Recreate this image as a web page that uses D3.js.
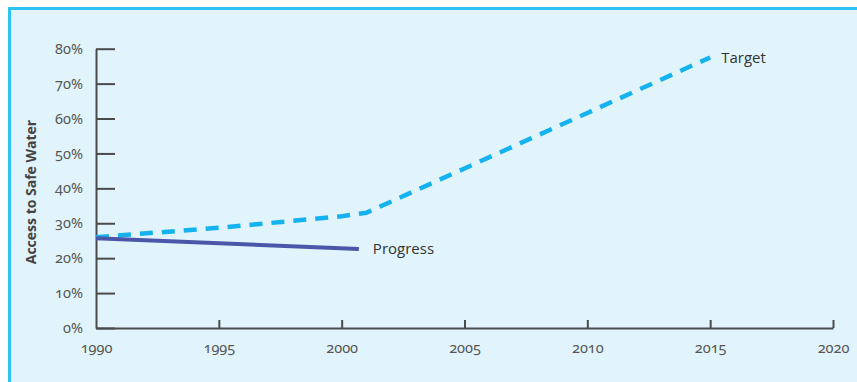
<!DOCTYPE html>
<html>
<head>
<meta charset="utf-8">
<script src="https://cdn.jsdelivr.net/npm/d3@7"></script>
<style>
  body { margin: 0; background: #fff; }
  svg { display: block; font-family: "Open Sans", Lato, sans-serif; }
  .tick text { font-family: "Noto Sans", "Open Sans", sans-serif; font-feature-settings: "onum" 1; font-variant-numeric: oldstyle-nums; }
</style>
</head>
<body>
<div id="chart"></div>
<script>
// data
var years = [1990, 1995, 2000, 2001, 2005, 2010, 2015];
var target = [26, 28.7, 32, 33, 45.7, 61.6, 77.5];
var progressYears = [1990, 2000.7];
var progress = [25.7, 22.6];
var xTicks = [1990, 1995, 2000, 2005, 2010, 2015, 2020];
var yTicks = [0, 10, 20, 30, 40, 50, 60, 70, 80];

var width = 857, height = 382;

var svg = d3.select("#chart").append("svg")
    .attr("width", width)
    .attr("height", height);

// panel
svg.append("rect")
    .attr("x", 9).attr("y", 8)
    .attr("width", width - 9).attr("height", height - 8)
    .attr("fill", "#e1f4fc");
svg.append("path")
    .attr("d", "M" + 9.5 + "," + height + "V" + 8.5 + "H" + width)
    .attr("fill", "none")
    .attr("stroke", "#2cc3f2")
    .attr("stroke-width", 3);

var x = d3.scaleLinear().domain([1990, 2020]).range([96, 833]);
var y = d3.scaleLinear().domain([0, 80]).range([328, 48.7]);

var xAxis = svg.append("g")
    .attr("transform", "translate(0," + y(0) + ")")
    .call(d3.axisTop(x).tickValues(xTicks).tickSize(8).tickSizeOuter(0).tickFormat(d3.format("d")));
xAxis.selectAll(".tick text")
    .attr("y", 20)
    .attr("dy", "0.35em");

var yAxis = svg.append("g")
    .attr("transform", "translate(" + x(1990) + ",0)")
    .call(d3.axisRight(y).tickValues(yTicks).tickSize(19).tickSizeOuter(0).tickFormat(function(d) { return d + "%"; }));
yAxis.selectAll(".tick text")
    .attr("x", -13)
    .attr("text-anchor", "end");

svg.selectAll(".domain, .tick line")
    .attr("stroke", "#4a4a4a")
    .attr("stroke-width", 2);
svg.selectAll(".tick text")
    .attr("fill", "#555")
    .attr("font-size", 14.5);
// x axis has no 1990 tick mark (the y axis sits there)
xAxis.selectAll(".tick line").filter(function(d) { return d == 1990; }).remove();

var line = d3.line()
    .x(function(d) { return x(d[0]); })
    .y(function(d) { return y(d[1]); });

svg.append("path")
    .datum(d3.zip(years, target))
    .attr("d", line)
    .attr("fill", "none")
    .attr("stroke", "#14b2ee")
    .attr("stroke-width", 4.5)
    .attr("stroke-dasharray", "13,9");

svg.append("path")
    .datum(d3.zip(progressYears, progress))
    .attr("d", line)
    .attr("fill", "none")
    .attr("stroke", "#4b56a8")
    .attr("stroke-width", 4);

svg.append("text")
    .attr("x", x(2015) + 11).attr("y", y(77.5))
    .attr("dy", "0.35em")
    .attr("font-size", 15)
    .attr("fill", "#333")
    .text("Target");

svg.append("text")
    .attr("x", x(2000.7) + 14).attr("y", y(22.6))
    .attr("dy", "0.35em")
    .attr("font-size", 15)
    .attr("fill", "#333")
    .text("Progress");

svg.append("text")
    .attr("transform", "translate(36,192) rotate(-90)")
    .attr("text-anchor", "middle")
    .attr("font-size", 14)
    .attr("font-weight", "bold")
    .attr("fill", "#444")
    .text("Access to Safe Water");
</script>
</body>
</html>
